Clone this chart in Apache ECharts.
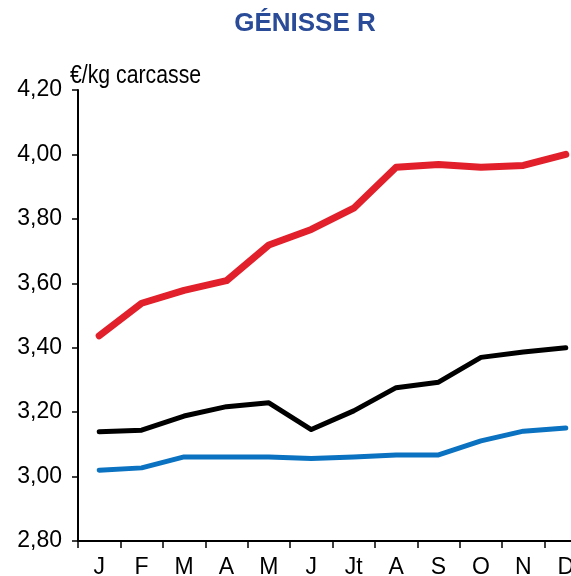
<!DOCTYPE html>
<html>
<head>
<meta charset="utf-8">
<script src="https://cdn.jsdelivr.net/npm/echarts@6/dist/echarts.min.js"></script>
<style>html,body{margin:0;padding:0;background:#fff}#c{width:571px;height:576px}</style>
</head>
<body>
<div id="c"></div>
<script>
var months = ['J','F','M','A','M','J','Jt','A','S','O','N','D'];
var redSeries = [3.437, 3.538, 3.578, 3.608, 3.719, 3.767, 3.833, 3.960, 3.969, 3.960, 3.966, 4.000];
var blackSeries = [3.139, 3.144, 3.188, 3.217, 3.229, 3.146, 3.204, 3.276, 3.293, 3.370, 3.387, 3.400];
var blueSeries = [3.020, 3.027, 3.061, 3.061, 3.061, 3.056, 3.061, 3.067, 3.067, 3.111, 3.141, 3.151];
var yTicks = [2.8, 3.0, 3.2, 3.4, 3.6, 3.8, 4.0, 4.2];
var titleText = 'GÉNISSE R';
var unitText = '€/kg carcasse';

var chart = echarts.init(document.getElementById('c'), null, {renderer: 'canvas'});
chart.setOption({
  animation: false,
  backgroundColor: '#fff',
  graphic: [
    {type: 'text', x: 305, y: 24, style: {text: titleText, font: 'bold 26px "Liberation Sans", Arial, sans-serif', fill: '#2a4b97', textAlign: 'center', textVerticalAlign: 'middle'}},
    {type: 'text', x: 70, y: 76, scaleX: 0.85, style: {text: unitText, font: '25px "Liberation Sans", Arial, sans-serif', fill: '#000', textAlign: 'left', textVerticalAlign: 'middle'}}
  ],
  grid: {left: 78, top: 90, bottom: 35, right: -16, containLabel: false, outerBoundsMode: 'none'},
  xAxis: {
    type: 'category',
    data: months,
    boundaryGap: true,
    axisLine: {lineStyle: {color: '#000', width: 2}},
    axisTick: {show: true, length: 7, lineStyle: {color: '#000', width: 1.5}, alignWithLabel: false},
    axisLabel: {color: '#000', fontSize: 23, fontFamily: '"Liberation Sans", Arial, sans-serif', margin: 15, interval: 0},
    splitLine: {show: false}
  },
  yAxis: {
    type: 'value',
    min: yTicks[0],
    max: yTicks[yTicks.length - 1],
    interval: 0.2,
    axisLine: {show: true, lineStyle: {color: '#000', width: 2}},
    axisTick: {show: true, length: 6, lineStyle: {color: '#000', width: 1.5}},
    axisLabel: {color: '#000', fontSize: 23, fontFamily: '"Liberation Sans", Arial, sans-serif', margin: 16,
      formatter: function (v) { return v.toFixed(2).replace('.', ','); }},
    splitLine: {show: false}
  },
  series: [
    {type: 'line', data: blueSeries, showSymbol: false, lineStyle: {color: '#0a72c0', width: 5, cap: 'round', join: 'round'}, z: 2},
    {type: 'line', data: blackSeries, showSymbol: false, lineStyle: {color: '#000', width: 5, cap: 'round', join: 'round'}, z: 3},
    {type: 'line', data: redSeries, showSymbol: false, lineStyle: {color: '#e1202b', width: 7, cap: 'round', join: 'round'}, z: 4}
  ]
});
</script>
</body>
</html>
